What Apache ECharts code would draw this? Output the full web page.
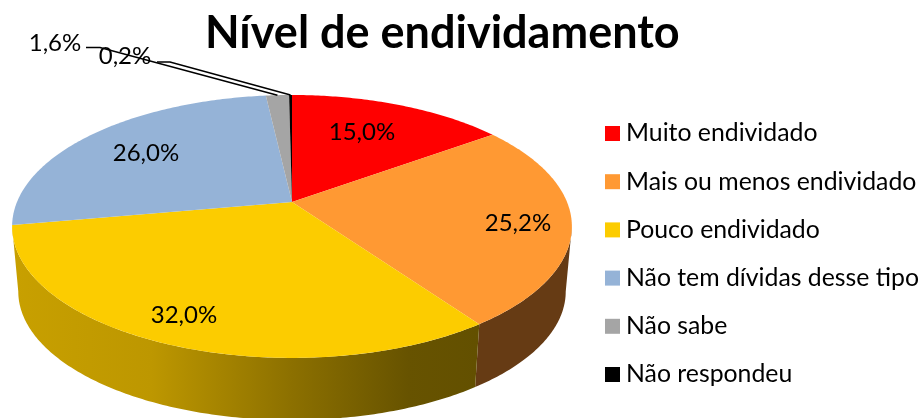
<!DOCTYPE html>
<html>
<head>
<meta charset="utf-8" />
<title>Nível de endividamento</title>
<style>
  html, body { margin: 0; padding: 0; background: #fff; }
  #chart { width: 921px; height: 418px; }
</style>
</head>
<body>
<div id="chart"></div>
<script src="https://cdn.jsdelivr.net/npm/echarts@6/dist/echarts.min.js"></script>
<script>
// dados
const titleText = "Nível de endividamento";
const categories = [
  "Muito endividado",
  "Mais ou menos endividado",
  "Pouco endividado",
  "Não tem dívidas desse tipo",
  "Não sabe",
  "Não respondeu",
];
const values = [15.0, 25.2, 32.0, 26.0, 1.6, 0.2];

// cores
const topColors = ["#ff0000", "#ff9933", "#fccc00", "#95b3d7", "#a5a5a5", "#000000"];
const sideColors = ["#800000", "#663b14", "#c8a000", "#4a5a6c", "#535353", "#000000"];

// geometria da pizza (perspectiva)
const apexX = 292;
const apexY = 202;
const scaleU = 275;
const scaleV = 126.9;
const tilt = 0.186;
const bottomScale = 0.978;
const bottomY = 267.6;

// trecho da borda que fica de frente para quem olha (entre as tangentes)
const tangent = (Math.acos(-tilt) / (2 * Math.PI)) * 100;
const frontFrom = tangent;
const frontTo = 100 - tangent;

// posição dos rótulos, em pixels
const labelX = [362, 518, 184, 146, 55, 125];
const labelY = [132, 223, 315, 153, 43, 56];
// rótulos com linha de chamada: início do traço e cotovelo
const leaderStart = [null, null, null, null, [86, 47.5], [157, 62]];
const leaderElbow = [null, null, null, null, [100, 47.5], [170, 62]];

const font = "Lato, 'Noto Sans', sans-serif";

function project(percent, r, y0, s) {
  const a = (percent / 100) * Math.PI * 2;
  const u = Math.sin(a) * r;
  const v = Math.cos(a) * r;
  const w = 1 + tilt * v;
  return [apexX + (s * scaleU * u) / w, y0 - (s * scaleV * v) / w];
}

function rim(from, to, y0, s) {
  const pts = [];
  const n = Math.max(2, Math.ceil((to - from) * 5));
  for (let i = 0; i <= n; i++) {
    pts.push(project(from + ((to - from) * i) / n, 1, y0, s));
  }
  return pts;
}

const yellowSide = new echarts.graphic.LinearGradient(
  12, 0, 478, 0,
  [
    { offset: 0, color: "#c8a000" },
    { offset: 0.3, color: "#bd9700" },
    { offset: 0.6, color: "#8c7000" },
    { offset: 0.85, color: "#675300" },
    { offset: 1, color: "#635000" },
  ],
  true
);

function renderSlice(params, api) {
  const i = params.seriesIndex;
  const start = values.slice(0, i).reduce((a, b) => a + b, 0);
  const end = start + api.value(0);
  const topRim = rim(start, end, apexY, 1);
  const children = [];

  // lateral: só a parte visível
  const sideFrom = Math.max(start, frontFrom);
  const sideTo = Math.min(end, frontTo);
  if (sideTo > sideFrom) {
    children.push({
      type: "polygon",
      z2: 1,
      shape: {
        points: rim(sideFrom, sideTo, apexY, 1).concat(
          rim(sideFrom, sideTo, bottomY, bottomScale).reverse()
        ),
      },
      style: { fill: i === 2 ? yellowSide : sideColors[i] },
    });
  }
  // tampo
  children.push({
    type: "polygon",
    z2: 5,
    shape: { points: [[apexX, apexY]].concat(topRim) },
    style: { fill: topColors[i] },
  });
  children.push({
    type: "text",
    z2: 20,
    style: {
      x: labelX[i],
      y: labelY[i],
      text: api.value(0).toFixed(1).replace(".", ",") + "%",
      fill: "#000",
      font: "24px " + font,
      align: "center",
      verticalAlign: "middle",
    },
  });
  if (leaderStart[i]) {
    const tip = project((start + end) / 2, 1, apexY, 1);
    children.push({
      type: "polyline",
      z2: 10,
      shape: { points: [leaderStart[i], leaderElbow[i], tip] },
      style: { fill: "none", stroke: "#000", lineWidth: 1.5 },
    });
  }
  return { type: "group", children: children };
}

const chart = echarts.init(document.getElementById("chart"), null, { renderer: "canvas" });
chart.setOption({
  animation: false,
  backgroundColor: "#fff",
  title: {
    text: titleText,
    left: 205,
    top: 11,
    padding: 0,
    textStyle: { fontFamily: font, fontWeight: "bold", fontSize: 45, color: "#000" },
  },
  legend: {
    orient: "vertical",
    left: 605,
    top: 119.5,
    padding: 0,
    data: categories,
    icon: "rect",
    itemWidth: 15,
    itemHeight: 15,
    itemGap: 20.2,
    selectedMode: false,
    textStyle: { fontFamily: font, fontSize: 24.8, color: "#000", padding: [0, 0, 0, 1], height: 28, lineHeight: 28 },
  },
  series: categories.map((name, i) => ({
    type: "custom",
    name: name,
    coordinateSystem: "none",
    silent: true,
    itemStyle: { color: topColors[i] },
    data: [values[i]],
    renderItem: renderSlice,
  })),
});
</script>
</body>
</html>
